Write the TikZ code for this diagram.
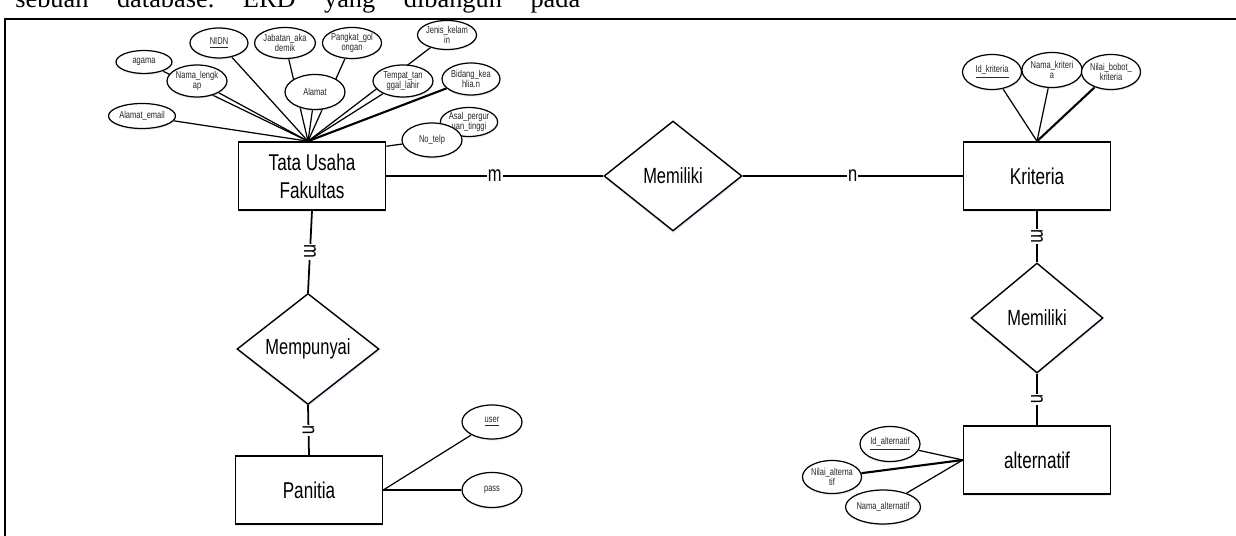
\documentclass[tikz,border=0pt]{standalone}
\usepackage{fontspec}
\setmainfont{Liberation Serif}
\newfontfamily\narrowfont[FakeStretch=0.75]{Liberation Sans}
\usepackage{tikz}
\usetikzlibrary{shapes.geometric, shadows, backgrounds}
\frenchspacing
\tikzstyle{entity}=[rectangle, draw, fill=white, line width=0.9pt, minimum width=2.94cm, minimum height=1.36cm, align=center, font=\narrowfont\fontsize{13pt}{16pt}\selectfont, drop shadow={shadow xshift=0.2pt, shadow yshift=-1.4pt, opacity=0.35, fill=blue!25}]
\tikzstyle{relation}=[diamond, draw, fill=white, line width=0.8pt, inner sep=0pt, aspect=1.25, font=\narrowfont\fontsize{12.5pt}{14pt}\selectfont, drop shadow={shadow xshift=0.2pt, shadow yshift=-1.4pt, opacity=0.35, fill=blue!25}]
\tikzstyle{attr}=[ellipse, draw, fill=white, line width=0.7pt, inner sep=0pt, align=center, text=black!85, font=\narrowfont\fontsize{5.7pt}{6pt}\selectfont, drop shadow={shadow xshift=0.2pt, shadow yshift=-1pt, opacity=0.3, fill=blue!25}]
\tikzstyle{card}=[fill=white, inner sep=0.6pt, font=\narrowfont\fontsize{12.5pt}{14pt}\selectfont]

\begin{document}
\begin{tikzpicture}[x=0.02cm, y=-0.02cm]
\tikzset{attrline/.style={line width=0.7pt}}
\tikzset{relline/.style={line width=1pt}}

\useasboundingbox (0,0) rectangle (1236,536);

% page text and frame
\node[anchor=base west, inner sep=0pt, font=\fontsize{15pt}{17pt}\selectfont] (pagetext) at (15,7.5) {\makebox[11.3cm][s]{sebuah database. ERD yang dibangun pada}};
\draw[line width=1.2pt] (1236,19) -- (5,19) -- (5,536);

% Entities
\node[entity] (tu) at (312,176) {Tata Usaha\\Fakultas};
\node[entity] (kr) at (1037,176) {Kriteria};
\node[entity] (pan) at (309,490) {Panitia};
\node[entity] (alt) at (1037,460) {alternatif};

% Relations
\node[relation, minimum width=2.76cm, minimum height=2.2cm] (mem) at (673,176) {Memiliki};
\node[relation, minimum width=2.84cm, minimum height=2.22cm] (mp) at (308,349) {Mempunyai};
\node[relation, minimum width=2.64cm, minimum height=2.2cm] (mem2) at (1037,318) {Memiliki};

% Attributes of Tata Usaha Fakultas
\node[attr, minimum width=1.12cm, minimum height=0.46cm] (agama) at (144,62) {agama};
\node[attr, minimum width=1.16cm, minimum height=0.6cm] (nidn) at (219,43) {\underline{NIDN}};
\node[attr, minimum width=1.14cm, minimum height=0.62cm] (jabatan) at (285,43) {Jabatan\_aka\\demik};
\node[attr, minimum width=1.18cm, minimum height=0.62cm] (pangkat) at (352,43) {Pangkat\_gol\\ongan};
\node[attr, minimum width=1.16cm, minimum height=0.58cm] (jenis) at (447,35) {Jenis\_kelam\\in};
\node[attr, minimum width=1.2cm, minimum height=0.64cm] (nama) at (197,81) {Nama\_lengk\\ap};
\node[attr, minimum width=1.2cm, minimum height=0.7cm] (alamat) at (315,92) {Alamat};
\node[attr, minimum width=1.2cm, minimum height=0.64cm] (tempat) at (403,81) {Tempat\_tan\\ggal\_lahir};
\node[attr, minimum width=1.16cm, minimum height=0.64cm] (bidang) at (471,79) {Bidang\_kea\\hlia.n};
\node[attr, minimum width=1.34cm, minimum height=0.5cm] (email) at (142,116) {Alamat\_email};
\node[attr, minimum width=1.14cm, minimum height=0.58cm] (asal) at (469,122) {Asal\_pergur\\uan\_tinggi};
\node[attr, minimum width=1.2cm, minimum height=0.68cm] (notelp) at (432,140) {No\_telp};

% Attributes of Kriteria
\node[attr, minimum width=1.18cm, minimum height=0.7cm] (idkr) at (992,72) {\underline{Id\_kriteria}};
\node[attr, minimum width=1.18cm, minimum height=0.7cm] (namakr) at (1052,70) {Nama\_kriteri\\a};
\node[attr, minimum width=1.18cm, minimum height=0.7cm] (bobot) at (1111,72) {Nilai\_bobot\_\\kriteria};

% Attributes of alternatif
\node[attr, minimum width=1.2cm, minimum height=0.7cm] (idalt) at (890,444) {\underline{Id\_alternatif}};
\node[attr, minimum width=1.18cm, minimum height=0.66cm] (nilaialt) at (832,477) {Nilai\_alterna\\tif};
\node[attr, minimum width=1.5cm, minimum height=0.68cm] (namaalt) at (883,507) {Nama\_alternatif};

% Attributes of Panitia
\node[attr, minimum width=1.2cm, minimum height=0.68cm] (user) at (492,422) {\underline{user}};
\node[attr, minimum width=1.2cm, minimum height=0.7cm] (pass) at (492,490) {pass};

\coordinate (hub) at ([xshift=-0.08cm]tu.north);

% attribute lines
\begin{scope}[on background layer]
\foreach \a in {agama, nidn, jabatan, pangkat, jenis, nama, alamat, tempat, email}
    \draw[attrline] (hub) -- (\a);
\draw[attrline, line width=1.2pt] (hub) -- (bidang);
\draw[attrline] (notelp) -- ([yshift=-0.1cm]tu.north east);

\foreach \a in {idkr, namakr}
    \draw[attrline] (kr.north) -- (\a);
\draw[attrline, line width=1.2pt] (kr.north) -- (bobot);

\foreach \a in {idalt, namaalt}
    \draw[attrline] (alt.west) -- (\a);
\draw[attrline, line width=1.2pt] (alt.west) -- (nilaialt);

\draw[attrline] (pan.east) -- (user);
\draw[attrline] (pan.east) -- (pass);
\end{scope}

% relation lines
\draw[relline] (tu.east) -- node[card] {m} (mem.west);
\draw[relline] (mem.east) -- node[card] {n} (kr.west);
\draw[relline] (tu.south) -- node[card, rotate=-90] {m} (mp.north);
\draw[relline] (mp.south) -- node[card, rotate=-90] {n} (pan.north);
\draw[relline] (kr.south) -- node[card, rotate=-90] {m} (mem2.north);
\draw[relline] (mem2.south) -- node[card, rotate=-90] {n} (alt.north);

\end{tikzpicture}
\end{document}
